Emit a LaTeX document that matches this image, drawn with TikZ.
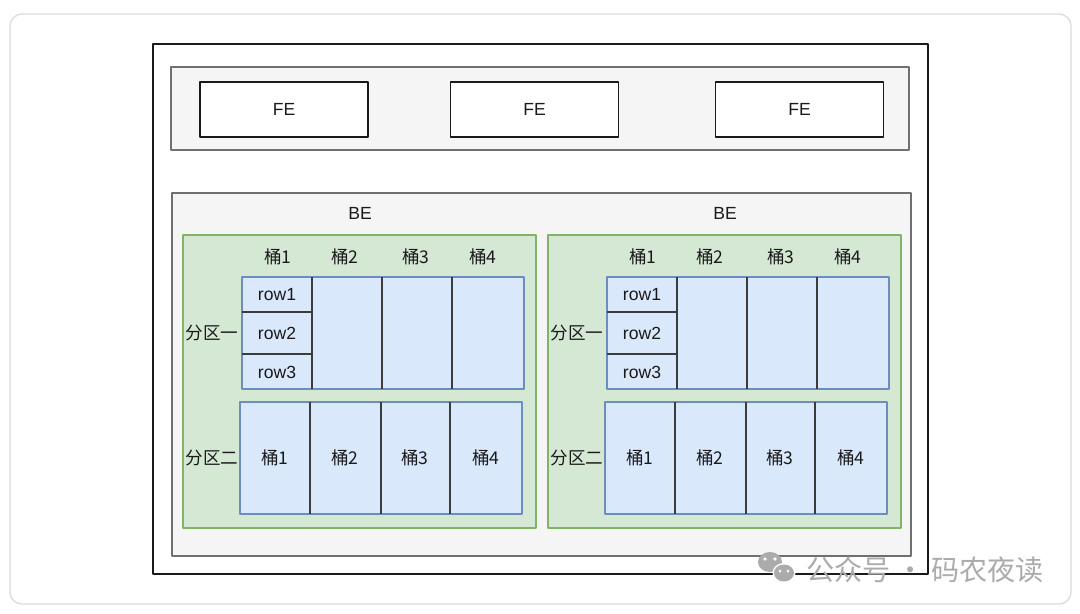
\documentclass[tikz,border=0pt]{standalone}
\usepackage{fontspec}
\setmainfont{Liberation Sans}
\newfontfamily\cjk{Noto Sans CJK SC}
\definecolor{FigureFrame}{HTML}{DDDDDD}
\definecolor{FigurePanel}{HTML}{F5F5F5}
\definecolor{FigurePanelLine}{HTML}{707070}
\definecolor{FigureGreen}{HTML}{D5E8D4}
\definecolor{FigureGreenLine}{HTML}{82B366}
\definecolor{FigureBlue}{HTML}{DAE8FC}
\definecolor{FigureBlueLine}{HTML}{6C8EBF}
\definecolor{FigureInk}{HTML}{1A1A1A}
\definecolor{FigureMark}{HTML}{ABABAB}

\begin{document}
\begin{tikzpicture}[x=0.02cm,y=-0.02cm,line join=round,
  label txt/.style={font=\fontsize{10}{12}\selectfont\cjk,text=FigureInk,inner sep=0pt},
  fe box/.style={draw=FigureInk,fill=white,line width=0.7pt,minimum width=3.36cm,minimum height=1.1cm,font=\fontsize{10}{12}\selectfont,text=FigureInk},
  panel/.style={draw=FigurePanelLine,fill=FigurePanel,line width=0.6pt},
  cell/.style={draw=FigureBlueLine,fill=FigureBlue,line width=0.6pt},
  divider/.style={draw=FigureInk!85,line width=0.7pt}]
  \useasboundingbox (0,0) rectangle (1080,613);
  \fill[white] (0,0) rectangle (1080,613);
  \draw[FigureFrame,line width=0.8pt,rounded corners=0.24cm] (10,14) rectangle (1071,604);
  \draw[FigureInk,line width=0.7pt,fill=white] (153,44) rectangle (928,574);
  % front ends
  \draw[panel] (171,67) rectangle (909,150);
  \node[fe box] (fe1) at (284,109.5) {FE};
  \node[fe box] (fe2) at (534.5,109.5) {FE};
  \node[fe box] (fe3) at (799.5,109.5) {FE};
  % back ends
  \draw[panel] (172,193) rectangle (911,556);
  \foreach \side/\dx in {L/0,R/365}{
    \begin{scope}[shift={(\dx,0)}]
      \node[label txt,font=\fontsize{10}{12}\selectfont] (be\side) at (360,213) {BE};
      \draw[FigureGreenLine,fill=FigureGreen,line width=0.6pt] (183,235) rectangle (536,528);
      \foreach \i/\x in {1/278,2/345,3/416,4/483}
        \node[label txt] (head\side\i) at (\x,257) {桶\i};
      % partition one
      \draw[cell] (242,277) rectangle (524,389);
      \draw[divider] (312,277)--(312,389) (382,277)--(382,389) (452,277)--(452,389);
      \draw[divider] (242,312)--(312,312) (242,354)--(312,354);
      \node[label txt,font=\fontsize{10}{12}\selectfont] (row\side1) at (277,295) {row1};
      \node[label txt,font=\fontsize{10}{12}\selectfont] (row\side2) at (277,333) {row2};
      \node[label txt,font=\fontsize{10}{12}\selectfont] (row\side3) at (277,372) {row3};
      \node[label txt] (partA\side) at (212,333) {分区一};
      % partition two
      \draw[cell] (240,402) rectangle (522,514);
      \draw[divider] (310,402)--(310,514) (381,402)--(381,514) (450,402)--(450,514);
      \foreach \i/\x in {1/275,2/345,3/415,4/486}
        \node[label txt] (bucket\side\i) at (\x,458) {桶\i};
      \node[label txt] (partB\side) at (212,458) {分区二};
    \end{scope}
  }
  % watermark
  \fill[FigureMark] (770,562) ellipse (12 and 10);
  \fill[white] (784,573) ellipse (11.5 and 10);
  \fill[FigureMark] (784,573) ellipse (10 and 8.5);
  \fill[white] (765,559) circle (1.8) (775,559) circle (1.8) (780,571) circle (1.5) (788,571) circle (1.5);
  \node[font=\fontsize{16}{19}\selectfont\cjk,text=FigureMark,inner sep=0pt,anchor=west] (mark) at (806,570) {公众号 · 码农夜读};
\end{tikzpicture}
\end{document}
